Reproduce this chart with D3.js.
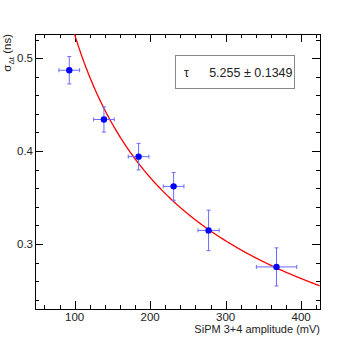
<!DOCTYPE html>
<html>
<head>
<meta charset="utf-8">
<script src="https://cdn.jsdelivr.net/npm/d3@7"></script>
<style>
  html, body { margin: 0; padding: 0; background: #fff; }
  svg { display: block; font-family: "Liberation Sans", Arial, Helvetica, sans-serif; }
</style>
</head>
<body>
<div id="chart"></div>
<script>
// measured points (amplitude in mV, sigma in ns)
const amplitude = [92.9, 138.8, 184.7, 231.1, 277.4, 367.4];
const amplitudeErr = [13.7, 13.7, 13.7, 13.7, 14.0, 26.7];
const sigma = [0.487, 0.434, 0.394, 0.362, 0.3146, 0.2753];
const sigmaErr = [0.0147, 0.0136, 0.0143, 0.015, 0.0218, 0.0205];

// fit result: sigma = tau / sqrt(A)
const fitTau = 5.255;
const fitTauErr = 0.1349;

const xTicks = [100, 200, 300, 400];
const yTicks = [0.3, 0.4, 0.5];

const W = 356, H = 344;
const padL = 35, padR = 320, padT = 34, padB = 309;

const x = d3.scaleLinear().domain([47.5, 425]).range([padL, padR]);
const y = d3.scaleLinear().domain([0.230, 0.526]).range([padB, padT]);

const svg = d3.select('#chart').append('svg')
  .attr('width', W)
  .attr('height', H);

svg.append('defs').append('clipPath').attr('id', 'frame-clip')
  .append('rect')
  .attr('x', padL).attr('y', padT)
  .attr('width', padR - padL).attr('height', padB - padT);

// minor/major ticks, drawn inward on all four sides
const xMinor = d3.range(60, 425, 20);
const yMinor = d3.range(0.24, 0.526, 0.02);

const ticks = svg.append('g').attr('stroke', '#000').attr('stroke-width', 1);
xMinor.forEach(v => {
  const len = xTicks.includes(Math.round(v)) ? 8 : 4;
  const px = Math.round(x(v)) + 0.5;
  ticks.append('line').attr('x1', px).attr('x2', px).attr('y1', padB).attr('y2', padB - len);
  ticks.append('line').attr('x1', px).attr('x2', px).attr('y1', padT).attr('y2', padT + len);
});
yMinor.forEach(v => {
  const isMajor = yTicks.some(t => Math.abs(t - v) < 1e-6);
  const len = isMajor ? 8 : 4;
  const py = Math.round(y(v)) + 0.5;
  ticks.append('line').attr('x1', padL).attr('x2', padL + len).attr('y1', py).attr('y2', py);
  ticks.append('line').attr('x1', padR).attr('x2', padR - len).attr('y1', py).attr('y2', py);
});

// frame
svg.append('rect')
  .attr('x', padL + 0.5).attr('y', padT + 0.5)
  .attr('width', padR - padL).attr('height', padB - padT)
  .attr('fill', 'none')
  .attr('stroke', '#000')
  .attr('stroke-width', 1);

// tick labels
svg.append('g').selectAll('text')
  .data(xTicks).enter().append('text')
  .attr('x', d => x(d))
  .attr('y', 320.5)
  .attr('text-anchor', 'middle')
  .style('font-size', '11.5px')
  .style('fill', '#222')
  .text(d => d);

svg.append('g').selectAll('text')
  .data(yTicks).enter().append('text')
  .attr('x', 33)
  .attr('y', d => y(d) + 4.2)
  .attr('text-anchor', 'end')
  .style('font-size', '11.5px')
  .style('fill', '#222')
  .text(d => d3.format('.1f')(d));

// axis titles
svg.append('text')
  .attr('x', padR)
  .attr('y', 332.5)
  .attr('text-anchor', 'end')
  .style('font-size', '11px')
  .style('fill', '#222')
  .text('SiPM 3+4 amplitude (mV)');

const yTitle = svg.append('text')
  .attr('transform', `translate(11,${padT}) rotate(-90)`)
  .attr('text-anchor', 'end')
  .style('font-size', '11.5px')
  .style('fill', '#222');
yTitle.append('tspan').text('σ');
yTitle.append('tspan').attr('dy', 3).style('font-size', '8px').text('Δt');
yTitle.append('tspan').attr('dy', -3).text(' (ns)');

// fit curve
const fitXs = d3.range(x.domain()[0], x.domain()[1] + 0.5, 1);
const fitLine = d3.line()
  .x(d => x(d))
  .y(d => y(fitTau / Math.sqrt(d)));

svg.append('path')
  .datum(fitXs)
  .attr('clip-path', 'url(#frame-clip)')
  .attr('d', fitLine)
  .attr('fill', 'none')
  .attr('stroke', '#ff0000')
  .attr('stroke-width', 1.3);

// error bars + points
const points = amplitude.map((a, i) => ({ a, ae: amplitudeErr[i], s: sigma[i], se: sigmaErr[i] }));
const errCol = '#6b6bff';
const cap = 2;

const eb = svg.append('g').attr('stroke', errCol).attr('stroke-width', 1);
points.forEach(p => {
  const cx = x(p.a), cy = y(p.s);
  const x0 = x(p.a - p.ae), x1 = x(p.a + p.ae);
  const y0 = y(p.s + p.se), y1 = y(p.s - p.se);
  eb.append('line').attr('x1', x0).attr('x2', x1).attr('y1', cy).attr('y2', cy);
  eb.append('line').attr('x1', cx).attr('x2', cx).attr('y1', y0).attr('y2', y1);
  eb.append('line').attr('x1', x0).attr('x2', x0).attr('y1', cy - cap).attr('y2', cy + cap);
  eb.append('line').attr('x1', x1).attr('x2', x1).attr('y1', cy - cap).attr('y2', cy + cap);
  eb.append('line').attr('x1', cx - cap).attr('x2', cx + cap).attr('y1', y0).attr('y2', y0);
  eb.append('line').attr('x1', cx - cap).attr('x2', cx + cap).attr('y1', y1).attr('y2', y1);
});

svg.append('g').selectAll('circle')
  .data(points).enter().append('circle')
  .attr('cx', d => x(d.a))
  .attr('cy', d => y(d.s))
  .attr('r', 3.2)
  .attr('fill', '#0000ff');

// fit stats box
const box = svg.append('g');
box.append('rect')
  .attr('x', 175.5).attr('y', 55.5)
  .attr('width', 119).attr('height', 33)
  .attr('fill', '#fff')
  .attr('stroke', '#888')
  .attr('stroke-width', 1);
box.append('text')
  .attr('x', 184).attr('y', 77)
  .style('font-size', '12.5px')
  .style('fill', '#222')
  .text('τ');
box.append('text')
  .attr('x', 292.5).attr('y', 77)
  .attr('text-anchor', 'end')
  .style('font-size', '12.5px')
  .style('fill', '#222')
  .text(`${fitTau} ± ${fitTauErr}`);
</script>
</body>
</html>
